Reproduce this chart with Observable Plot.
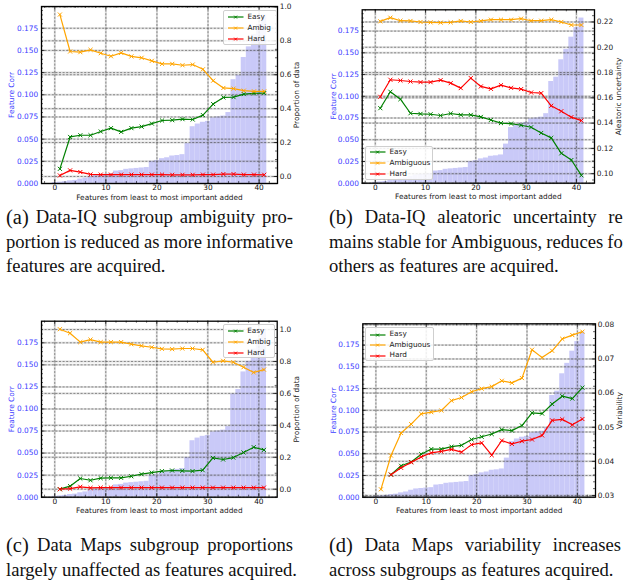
<!DOCTYPE html>
<html><head><meta charset="utf-8">
<script src="https://cdn.jsdelivr.net/npm/d3@7"></script>
<script src="https://cdn.jsdelivr.net/npm/@observablehq/plot@0.6"></script>
<style>
body{margin:0;background:#fff;width:623px;height:581px;overflow:hidden;position:relative;font-family:"DejaVu Sans";}
.pn{position:absolute;}
.pn svg{position:absolute;left:0;top:0;}
.cap{position:absolute;font-family:"Liberation Serif","Times New Roman",Tinos,"DejaVu Serif",serif;font-size:18.6px;color:#111;white-space:nowrap;line-height:22px;}
.cap span{font-family:inherit;}
.just{display:flex;justify-content:space-between;}
.lab{font-size:20.5px;}
.legend{position:absolute;background:rgba(255,255,255,0.85);border:1px solid #cfcfcf;border-radius:2px;box-sizing:border-box;}
.li{position:absolute;font-size:7.3px;color:#222;line-height:8px;white-space:nowrap;font-family:"DejaVu Sans";}
.ls{position:absolute;}
</style></head><body>
<script>
// ---------- data ----------
const barIndex = [0,1,2,3,4,5,6,7,8,9,10,11,12,13,14,15,16,17,18,19,20,21,22,23,24,25,26,27,28,29,30,31,32,33,34,35,36,37,38,39,40,41];
const featureCorr = [0.001,0.0015,0.002,0.003,0.0035,0.005,0.006,0.008,0.0095,0.010,0.0105,0.011,0.014,0.0145,0.016,0.0165,0.017,0.0175,0.018,0.025,0.026,0.028,0.029,0.031,0.0315,0.0325,0.045,0.064,0.067,0.069,0.070,0.074,0.075,0.076,0.080,0.117,0.122,0.142,0.154,0.168,0.179,0.190];
const xPoints = [1,3,5,7,9,11,13,15,17,19,21,23,25,27,29,31,33,35,37,39,41];

const aEasy  = [0.045,0.233,0.243,0.243,0.265,0.285,0.263,0.285,0.294,0.312,0.330,0.332,0.338,0.336,0.362,0.427,0.466,0.468,0.486,0.490,0.492];
const aAmbig = [0.955,0.737,0.733,0.747,0.727,0.709,0.729,0.708,0.700,0.682,0.664,0.664,0.656,0.660,0.632,0.565,0.522,0.518,0.506,0.502,0.502];
const aHard  = [0.006,0.036,0.026,0.012,0.011,0.011,0.011,0.011,0.011,0.011,0.011,0.010,0.010,0.010,0.011,0.011,0.014,0.014,0.011,0.011,0.010];

const bEasy  = [0.1518,0.1648,0.1589,0.1478,0.1473,0.1470,0.1460,0.1476,0.1465,0.1465,0.1449,0.1425,0.1400,0.1396,0.1383,0.1367,0.1322,0.1283,0.1161,0.1108,0.0987];
const bAmbig = [0.2205,0.2234,0.2210,0.2208,0.2200,0.2197,0.2195,0.2197,0.2208,0.2200,0.2208,0.2218,0.2218,0.2218,0.2226,0.2210,0.2210,0.2218,0.2200,0.2176,0.2176];
const bHard  = [0.1608,0.1743,0.1737,0.1729,0.1724,0.1724,0.1740,0.1716,0.1677,0.1756,0.1690,0.1671,0.1700,0.1679,0.1669,0.1642,0.1637,0.1537,0.1494,0.1447,0.1420];

const cEasy  = [0.000,0.019,0.067,0.056,0.069,0.071,0.071,0.081,0.094,0.104,0.113,0.117,0.115,0.113,0.119,0.196,0.186,0.198,0.230,0.263,0.246];
const cAmbig = [1.002,0.977,0.921,0.937,0.921,0.921,0.921,0.908,0.898,0.889,0.879,0.877,0.881,0.881,0.873,0.795,0.804,0.795,0.764,0.731,0.749];
const cHard  = [0.000,0.004,0.015,0.008,0.010,0.010,0.010,0.010,0.010,0.010,0.010,0.010,0.010,0.010,0.010,0.010,0.010,0.010,0.010,0.010,0.010];

const dEasy  = [null,0.0361,0.0387,0.0398,0.0421,0.0436,0.0436,0.0443,0.0447,0.0464,0.0472,0.0480,0.0493,0.0490,0.0505,0.0542,0.0540,0.0568,0.0591,0.0584,0.0616];
const dAmbig = [0.0318,0.0417,0.0483,0.0509,0.0539,0.0544,0.0549,0.0578,0.0587,0.0604,0.0613,0.0619,0.0636,0.0630,0.0644,0.0727,0.0704,0.0724,0.0759,0.0770,0.0780];
const dHard  = [null,0.0361,0.0381,0.0397,0.0413,0.0425,0.0429,0.0435,0.0427,0.0449,0.0454,0.0418,0.0461,0.0451,0.0459,0.0464,0.0476,0.0520,0.0523,0.0507,0.0524];

const xTicks = [0,10,20,30,40];
const leftTicks = [0,0.025,0.05,0.075,0.1,0.125,0.15,0.175];
const propTicks = [0,0.2,0.4,0.6,0.8,1.0];
const aleaTicks = [0.10,0.12,0.14,0.16,0.18,0.20,0.22];
const varTicks = [0.03,0.04,0.05,0.06,0.07,0.08];

const xLabel = "Features from least to most important added";
const leftLabel = "Feature Corr";
const colors = {Easy: "#008000", Ambig: "#FFA500", Hard: "#FF0000"};

// ---------- helpers ----------
const X_DOMAIN = [-2.6, 43.6];
const LEFT_DOMAIN = [0, d3.max(featureCorr) * 1.05];
const BLUE = "#3d3dff";
function padDomain(arrs) {
  const all = arrs.flat().filter(v => v != null);
  const [lo, hi] = d3.extent(all); const r = hi - lo;
  return [lo - 0.05 * r, hi + 0.05 * r];
}
function minorIn(domain, step, majors) {
  const out = [];
  const s = Math.ceil(domain[0] / step - 1e-9), e = Math.floor(domain[1] / step + 1e-9);
  for (let k = s; k <= e; k++) {
    const v = +(k * step).toFixed(6);
    if (!majors.some(m => Math.abs(m - v) < step / 10)) out.push(v);
  }
  return out;
}
const gridMarks = (fn, ticks) => [
  fn(ticks, {stroke: "#888", strokeOpacity: 0.28, strokeWidth: 2}),
  fn(ticks, {stroke: "#222", strokeOpacity: 0.6, strokeWidth: 0.8, strokeDasharray: "2,1.6"})
];

function drawPanel(cfg) {
  const {left, top, width, height, mL, mR, mT, mB, series, rTicks, rStep, rFmt, rLabel, rDx, lDx} = cfg;
  const pw = width - mL - mR, ph = height - mT - mB;
  const rDomain = padDomain(series.map(s => s.values));
  const base = {width, height, marginLeft: mL, marginRight: mR, marginTop: mT, marginBottom: mB,
    x: {domain: X_DOMAIN, axis: null}};
  const xMinor = minorIn(X_DOMAIN, 2, xTicks);
  const lMinor = minorIn(LEFT_DOMAIN, 0.005, leftTicks);
  const rMajor = rTicks.filter(t => t >= rDomain[0] - 1e-9 && t <= rDomain[1] + 1e-9);
  const rMinor = minorIn(rDomain, rStep, rMajor);
  const bars = barIndex.map((i, k) => ({i, v: featureCorr[k]}));

  const svg1 = Plot.plot({
    ...base,
    y: {domain: LEFT_DOMAIN, axis: null},
    style: {background: "white", fontFamily: "DejaVu Sans", fontSize: "7.4px", overflow: "visible"},
    marks: [
      Plot.rect(bars, {x1: d => d.i - 0.5, x2: d => d.i + 0.5, y1: d => 0, y2: "v", fill: "#c9c9f8"}),
      ...gridMarks(Plot.gridY, leftTicks),
      ...gridMarks(Plot.gridX, xTicks),
      Plot.axisY({ticks: leftTicks, tickSize: 0, tickPadding: 3.3, tickFormat: d3.format(".3f"), fill: BLUE, label: null}),
      Plot.axisX({ticks: xTicks, tickSize: 0, tickPadding: 1.5, tickFormat: d3.format("d"), fill: "#111", label: null}),
      Plot.text([xLabel], {text: d => d, frameAnchor: "bottom", lineAnchor: "middle", textAnchor: "middle", dy: 13.9, fill: "#222"}),
      Plot.text([leftLabel], {text: d => d, frameAnchor: "left", textAnchor: "middle", lineAnchor: "middle", rotate: -90, dx: lDx, fill: BLUE}),
      Plot.ruleY(leftTicks, {insetRight: pw - 3.5, stroke: "#000", strokeWidth: 0.8}),
      Plot.ruleY(lMinor, {insetRight: pw - 2, stroke: "#000", strokeWidth: 0.6}),
      Plot.ruleX(xTicks, {insetTop: ph - 3.5, stroke: "#000", strokeWidth: 0.8}),
      Plot.ruleX(xMinor, {insetTop: ph - 2, stroke: "#000", strokeWidth: 0.6}),
      Plot.ruleX(xTicks, {insetBottom: ph - 3.5, stroke: "#000", strokeWidth: 0.8}),
      Plot.ruleX(xMinor, {insetBottom: ph - 2, stroke: "#000", strokeWidth: 0.6})
    ]
  });

  const lineMarks = [];
  for (const s of series) {
    const rows = xPoints.map((x, k) => ({x, v: s.values[k]}));
    lineMarks.push(Plot.line(rows, {x: "x", y: "v", stroke: s.color, strokeWidth: 1.2}));
    lineMarks.push(Plot.dot(rows.filter(r => r.v != null), {x: "x", y: "v", symbol: "times", r: 2, stroke: s.color, strokeWidth: 1}));
  }
  const svg2 = Plot.plot({
    ...base,
    y: {domain: rDomain, axis: null},
    style: {background: "transparent", fontFamily: "DejaVu Sans", fontSize: "7.4px", overflow: "visible"},
    marks: [
      ...gridMarks(Plot.gridY, rMajor),
      ...lineMarks,
      Plot.axisY({anchor: "right", ticks: rMajor, tickSize: 0, tickPadding: 2.3, tickFormat: d3.format(rFmt), fill: "#222", label: null}),
      Plot.text([rLabel], {text: d => d, frameAnchor: "right", textAnchor: "middle", lineAnchor: "middle", rotate: -90, dx: rDx, fill: "#222"}),
      Plot.ruleY(rMajor, {insetLeft: pw - 3.5, stroke: "#000", strokeWidth: 0.8}),
      Plot.ruleY(rMinor, {insetLeft: pw - 2, stroke: "#000", strokeWidth: 0.6}),
      Plot.frame({stroke: "#000", strokeWidth: 1.3})
    ]
  });

  const div = document.createElement("div");
  div.className = "pn";
  Object.assign(div.style, {left: left + "px", top: top + "px", width: width + "px", height: height + "px"});
  div.appendChild(svg1); div.appendChild(svg2);
  document.body.appendChild(div);

  // legend
  const L = cfg.legend;
  const box = document.createElement("div");
  box.className = "legend";
  Object.assign(box.style, {left: L.l + "px", top: L.t + "px", width: L.w + "px", height: L.h + "px"});
  series.forEach((s, k) => {
    const y = L.rows[k];
    const sw = document.createElementNS("http://www.w3.org/2000/svg", "svg");
    sw.setAttribute("width", 16); sw.setAttribute("height", 6);
    sw.setAttribute("class", "ls");
    sw.style.left = "4px"; sw.style.top = (y - 3) + "px";
    sw.innerHTML = `<line x1="0" y1="3" x2="15.5" y2="3" stroke="${s.color}" stroke-width="1.2"/>` +
      `<path d="M6.2,1.7L9.0,4.5M9.0,1.7L6.2,4.5" stroke="${s.color}" stroke-width="1"/>`;
    box.appendChild(sw);
    const t = document.createElement("div");
    t.className = "li"; t.textContent = s.name;
    t.style.left = "23.5px"; t.style.top = (y - 4.3) + "px";
    box.appendChild(t);
  });
  document.body.appendChild(box);
}

function caption(left, width, centers, lines) {
  lines.forEach((line, k) => {
    const d = document.createElement("div");
    const justified = k < lines.length - 1;
    d.className = "cap" + (justified ? " just" : "");
    d.style.left = left + "px"; d.style.top = (centers[k] - 11) + "px";
    if (justified) d.style.width = width + "px";
    const words = line.split(" ");
    words.forEach((w, j) => {
      const sp = document.createElement("span");
      sp.textContent = justified ? w : (j ? " " + w : w);
      if (k === 0 && j === 0) sp.className = "lab";
      d.appendChild(sp);
    });
    document.body.appendChild(d);
  });
}

// ---------- panels ----------
drawPanel({left: 0, top: 0, width: 310, height: 200, mL: 41, mR: 33, mT: 6, mB: 17,
  series: [{name: "Easy", color: colors.Easy, values: aEasy}, {name: "Ambig", color: colors.Ambig, values: aAmbig}, {name: "Hard", color: colors.Hard, values: aHard}],
  rTicks: propTicks, rStep: 0.05, rFmt: ".1f", rLabel: "Proportion of data", rDx: 19, lDx: -30,
  legend: {l: 223, t: 10, w: 53.5, h: 34.5, rows: [6.3, 17.3, 28.3]}});

drawPanel({left: 310, top: 0, width: 313, height: 200, mL: 51.7, mR: 29, mT: 9.3, mB: 17.3,
  series: [{name: "Easy", color: colors.Easy, values: bEasy}, {name: "Ambiguous", color: colors.Ambig, values: bAmbig}, {name: "Hard", color: colors.Hard, values: bHard}],
  rTicks: aleaTicks, rStep: 0.005, rFmt: ".2f", rLabel: "Aleatoric uncertainty", rDx: 24, lDx: -28.4,
  legend: {l: 365, t: 145.7, w: 68, h: 34.3, rows: [5.8, 16.8, 27.3]}});

drawPanel({left: 0, top: 310, width: 310, height: 205, mL: 41, mR: 33.3, mT: 10.7, mB: 18.3,
  series: [{name: "Easy", color: colors.Easy, values: cEasy}, {name: "Ambig", color: colors.Ambig, values: cAmbig}, {name: "Hard", color: colors.Hard, values: cHard}],
  rTicks: propTicks, rStep: 0.05, rFmt: ".1f", rLabel: "Proportion of data", rDx: 19.3, lDx: -30,
  legend: {l: 222.7, t: 324, w: 52, h: 34, rows: [6.3, 17.3, 28.3]}});

drawPanel({left: 310, top: 310, width: 313, height: 205, mL: 52.3, mR: 28, mT: 13.3, mB: 18.3,
  series: [{name: "Easy", color: colors.Easy, values: dEasy}, {name: "Ambiguous", color: colors.Ambig, values: dAmbig}, {name: "Hard", color: colors.Hard, values: dHard}],
  rTicks: varTicks, rStep: 0.002, rFmt: ".2f", rLabel: "Variability", rDx: 24, lDx: -29,
  legend: {l: 365, t: 327.3, w: 68.5, h: 34, rows: [6.3, 17.1, 27.5]}});

// ---------- captions ----------
caption(6, 287, [217, 241.5, 266], ["(a) Data-IQ subgroup ambiguity pro-", "portion is reduced as more informative", "features are acquired."]);
caption(329, 300, [217, 241.5, 266], ["(b) Data-IQ aleatoric uncertainty re-", "mains stable for Ambiguous, reduces for", "others as features are acquired."]);
caption(6, 287, [545, 570], ["(c) Data Maps subgroup proportions", "largely unaffected as features acquired."]);
caption(329, 292, [545, 570], ["(d) Data Maps variability increases", "across subgroups as features acquired."]);
</script>
</body></html>
